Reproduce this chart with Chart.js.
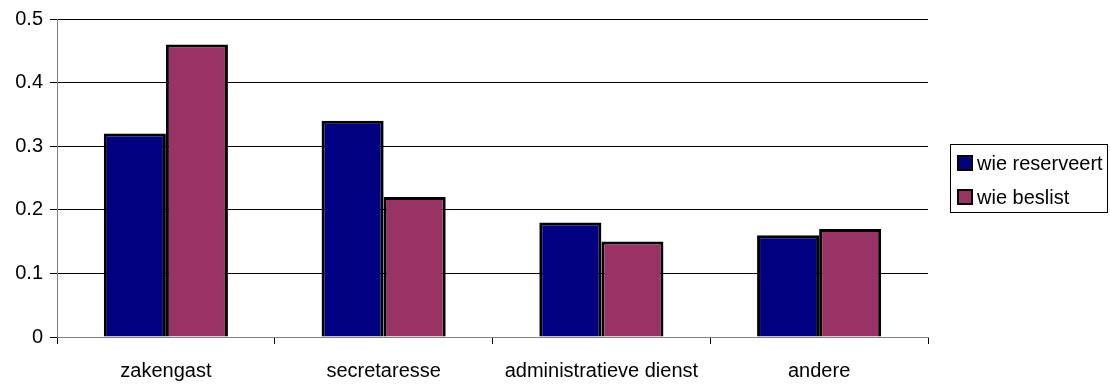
<!DOCTYPE html>
<html>
<head>
<meta charset="utf-8">
<script src="https://cdn.jsdelivr.net/npm/chart.js@4/dist/chart.umd.min.js"></script>
<style>
  body { margin: 0; background: #fff; font-family: "Liberation Sans", Arial, sans-serif; }
  #wrap { position: relative; width: 1110px; height: 385px; }
  #legend { position: absolute; left: 950px; top: 144px; width: 156px; height: 67px;
            border: 1px solid #000; font-size: 20px; color: #000; }
  .item { position: absolute; left: 6px; display: flex; align-items: center; line-height: 22px; }
  .sw { width: 12px; height: 12px; border: 2px solid #000; margin-right: 4px; }
</style>
</head>
<body>
<div id="wrap">
  <canvas id="chart" width="1110" height="385"></canvas>
  <div id="legend"></div>
</div>
<script>
const categories = ['zakengast', 'secretaresse', 'administratieve dienst', 'andere'];
const reserveert = [0.32, 0.34, 0.18, 0.16];  // wie reserveert
const beslist = [0.46, 0.22, 0.15, 0.17];     // wie beslist
const seriesNames = ['wie reserveert', 'wie beslist'];
const seriesColors = ['#000080', '#993366'];
const yTicks = [0, 0.1, 0.2, 0.3, 0.4, 0.5];

// Build legend
const legend = document.getElementById('legend');
seriesNames.forEach((name, i) => {
    const item = document.createElement('div');
    item.className = 'item';
    item.style.top = (i === 0 ? 7 : 41) + 'px';
    item.innerHTML = `<span class="sw" style="background:${seriesColors[i]}"></span><span>${name}</span>`;
    legend.appendChild(item);
});

new Chart(document.getElementById('chart'), {
    type: 'bar',
    data: {
        labels: categories,
        datasets: [
            { label: seriesNames[0], data: reserveert, backgroundColor: seriesColors[0], borderColor: '#000', borderWidth: 3 },
            { label: seriesNames[1], data: beslist, backgroundColor: seriesColors[1], borderColor: '#000', borderWidth: 3 }
        ]
    },
    options: {
        responsive: false,
        animation: false,
        layout: { padding: { top: 17, right: 182, bottom: 0, left: 0 } },
        datasets: { bar: { categoryPercentage: 0.57, barPercentage: 1 } },
        plugins: { legend: { display: false }, tooltip: { enabled: false } },
        scales: {
            x: {
                afterFit: scale => { scale.height = 48; },
                grid: { offset: true, drawOnChartArea: false, color: '#000', tickLength: 7 },
                border: { color: '#808080', width: 1 },
                ticks: { color: '#000', font: { family: 'Liberation Sans', size: 20 }, padding: 15 }
            },
            y: {
                min: 0,
                max: 0.5,
                afterFit: scale => { scale.width = 57; },
                afterBuildTicks: scale => { scale.ticks = yTicks.map(v => ({ value: v })); },
                grid: { color: '#000', tickLength: 7 },
                border: { color: '#808080', width: 1 },
                ticks: { color: '#000', font: { family: 'Liberation Sans', size: 20 }, padding: 7,
                         callback: v => String(v) }
            }
        }
    }
});
</script>
</body>
</html>
